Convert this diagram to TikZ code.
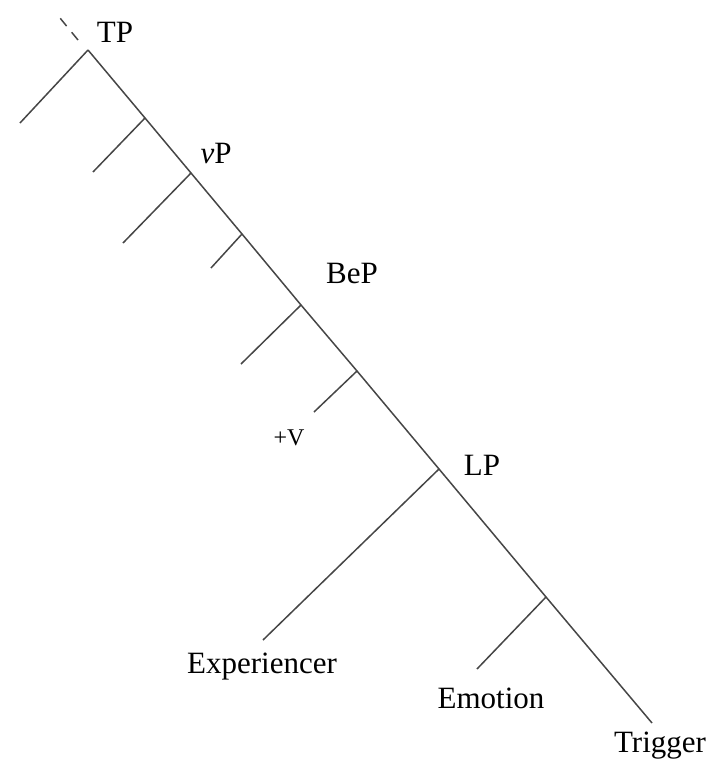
\documentclass[tikz,border=0pt]{standalone}
\usepackage{fontspec}
\setmainfont{Liberation Serif}
\usetikzlibrary{positioning}
\definecolor{ink}{RGB}{70,70,70}
\tikzset{
  br/.style={draw=ink,line width=0.75pt},
  cat/.style={anchor=base,inner sep=0pt,font=\fontsize{15.5}{18}\selectfont},
  feat/.style={anchor=base,inner sep=0pt,font=\fontsize{12}{14}\selectfont}
}
\begin{document}
\begin{tikzpicture}[x=0.5pt,y=-0.5pt]
  \useasboundingbox (0,0) rectangle (709,760);
  % spine
  \coordinate (tp)  at (88,50);
  \coordinate (s1)  at (145,118);
  \coordinate (vp)  at (191,173);
  \coordinate (s2)  at (242,234);
  \coordinate (bep) at (301,305);
  \coordinate (s3)  at (357,371);
  \coordinate (lp)  at (439,469);
  \coordinate (s4)  at (546,597);
  \coordinate (trig) at (652,723);
  \coordinate (up)  at (78,40);
  \coordinate (top) at (60,18);
  \draw[br,dash pattern=on 5pt off 4pt] (up) -- (top);
  \draw[br] (tp) -- (s1) -- (vp) -- (s2) -- (bep) -- (s3) -- (lp) -- (s4) -- (trig);

  % left daughters
  \foreach \p/\e in {tp/{20,123},s1/{93,172},vp/{123,243},s2/{211,268},bep/{241,364},s3/{314,412},lp/{263,640},s4/{477,669}}{
    \coordinate (\p-l) at (\e);
    \draw[br] (\p) -- (\p-l);
  }

  \node[cat] (tpl)  at (115,42)  {TP};
  \node[cat] (vpl)  at (216,163) {\textit{v}P};
  \node[cat] (bepl) at (352,283) {BeP};
  \node[feat] (vf)  at (289,445) {+V};
  \node[cat] (lpl)  at (482,475) {LP};
  \node[cat] (exp)  at (262,673) {Experiencer};
  \node[cat] (emo)  at (491,708) {Emotion};
  \node[cat] (trg)  at (660,752) {Trigger};
\end{tikzpicture}
\end{document}
